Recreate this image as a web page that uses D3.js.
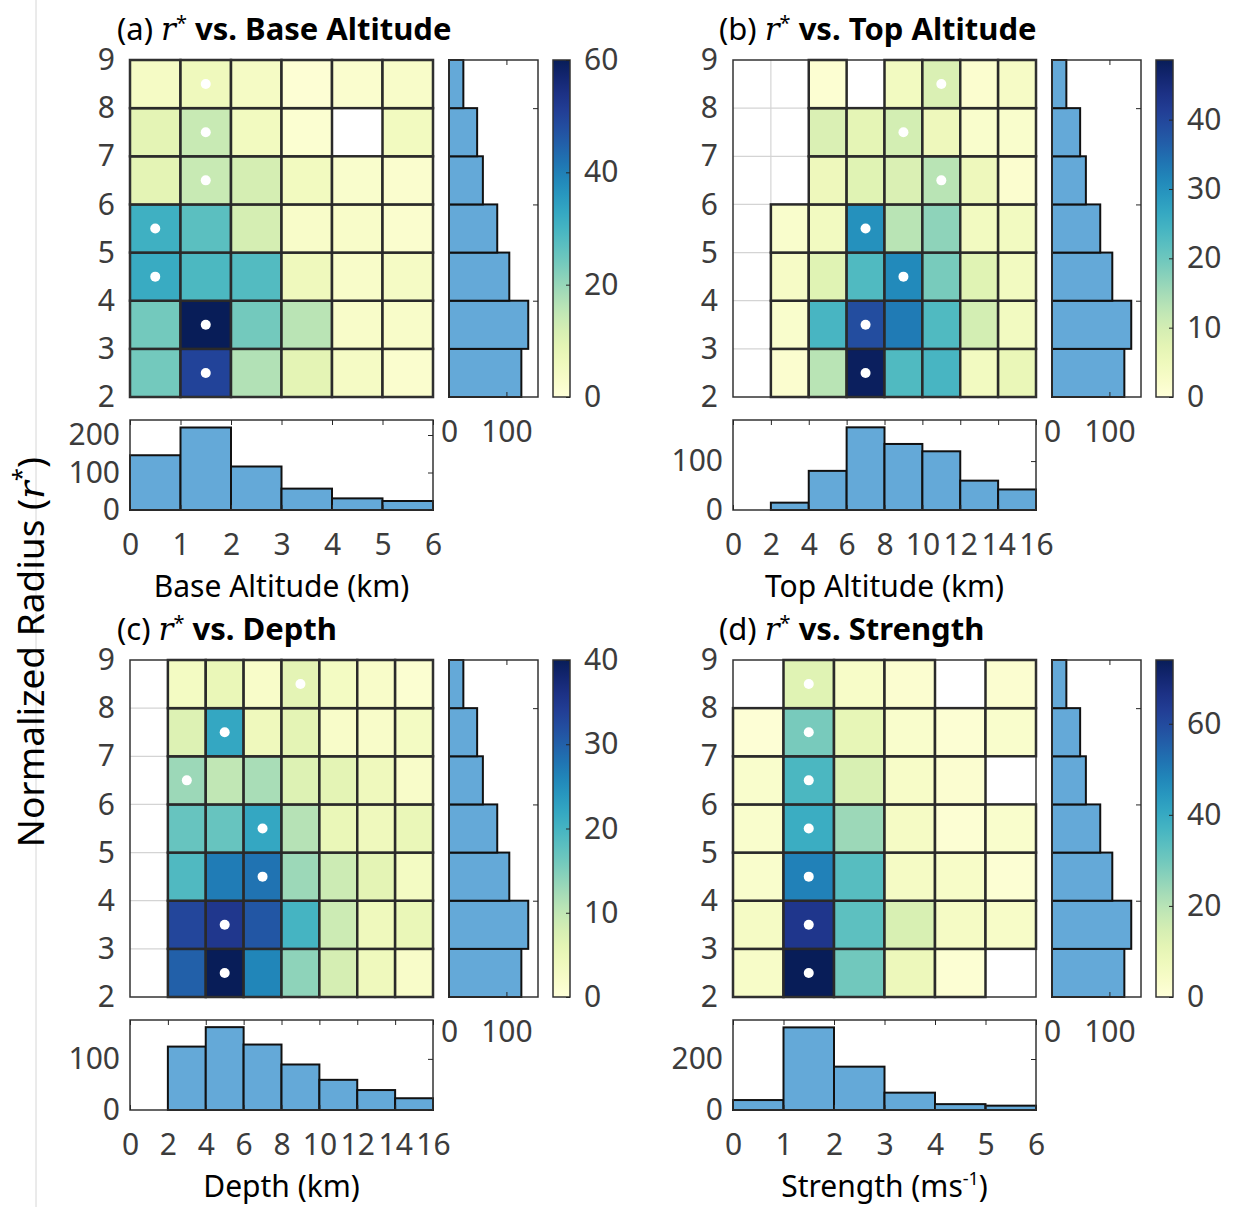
<!DOCTYPE html>
<html>
  <head>
    <title>r* joint histograms</title>
  </head>
  <body style="margin:0;background:#fff">
    <script src="https://d3js.org/d3.v7.min.js"></script>
<script>
// r* bins (rows) and marginal counts, bottom row first
var rStarEdges = [2, 3, 4, 5, 6, 7, 8, 9];
var rStarCounts = [126, 138, 105, 84, 59, 49, 25];

// (a) base altitude
var baseEdges = [0, 1, 2, 3, 4, 5, 6];
var baseCounts = [146, 220, 116, 57, 31, 24];
var baseGrid = [
  [24, 50, 17, 9, 4, 2],
  [24, 60, 24, 16, 3, 3],
  [32, 29, 28, 6, 3, 4],
  [31, 27, 12, 3, 3, 2],
  [9, 14, 12, 5, 2.5, 2],
  [9, 14, 5, 1.5, null, 5],
  [4, 6, 4, 1, 2, 3]
];

// (b) top altitude
var topEdges = [0, 2, 4, 6, 8, 10, 12, 14, 16];
var topCounts = [0, 15, 80, 169, 135, 120, 60, 42];
var topGrid = [
  [null, 1.5, 13, 48, 23, 24, 4, 6],
  [null, 2, 24, 39, 33, 23, 10, 4],
  [null, 3, 8, 23, 31, 19, 8, 4],
  [null, 2, 4, 30, 13, 17, 4, 4],
  [null, null, 5, 8, 9, 13, 5, 1.5],
  [null, null, 9, 7, 10, 5, 2, 2],
  [null, null, 1, null, 4, 9, 1.5, 3]
];

// (c) depth
var depthEdges = [0, 2, 4, 6, 8, 10, 12, 14, 16];
var depthCounts = [0, 124, 162, 128, 89, 59, 39, 23];
var depthGrid = [
  [null, 30, 40, 26, 14, 8, 4, 2],
  [null, 33, 35, 31, 20, 9, 4, 5],
  [null, 19, 27, 28, 13, 9, 6, 3],
  [null, 17, 17, 22, 11, 5, 4, 5],
  [null, 13, 10, 12, 7, 6, 4, 2],
  [null, 7, 22, 4, 6, 2, 2, 3],
  [null, 3, 5, 2, 6, 3, 2, 1]
];

// (d) strength
var strengthEdges = [0, 1, 2, 3, 4, 5, 6];
var strengthCounts = [39, 324, 170, 68, 23, 17];
var strengthGrid = [
  [4, 74, 30, 8, 1.5, null],
  [5, 65, 33, 14, 5, 4],
  [3, 49, 34, 5, 4, 1.5],
  [3, 39, 24, 5, 1.5, 3],
  [3, 36, 14, 4, 2, null],
  [1, 29, 10, 3, 1.5, 3],
  [null, 12, 4, 2, null, 2]
];

var panels = [
  {tag: "(a) ", name: "vs. Base Altitude", xlabel: "Base Altitude (km)", edges: baseEdges, counts: baseCounts,
   grid: baseGrid, cmax: 60, cticks: [0, 20, 40, 60], hmax: 240, hticks: [0, 100, 200], x0: 130, y0: 60, tx: 117},
  {tag: "(b) ", name: "vs. Top Altitude", xlabel: "Top Altitude (km)", edges: topEdges, counts: topCounts,
   grid: topGrid, cmax: 48.6, cticks: [0, 10, 20, 30, 40], hmax: 184, hticks: [0, 100], x0: 733, y0: 60, tx: 719},
  {tag: "(c) ", name: "vs. Depth", xlabel: "Depth (km)", edges: depthEdges, counts: depthCounts,
   grid: depthGrid, cmax: 40, cticks: [0, 10, 20, 30, 40], hmax: 176, hticks: [0, 100], x0: 130, y0: 660, tx: 117},
  {tag: "(d) ", name: "vs. Strength", xlabel: "Strength (ms", sup: "-1", edges: strengthEdges, counts: strengthCounts,
   grid: strengthGrid, cmax: 74, cticks: [0, 20, 40, 60], hmax: 353, hticks: [0, 200], x0: 733, y0: 660, tx: 719}
];

var FONT = "'Noto Sans', 'Open Sans', sans-serif";
var TICKC = "#3c3c3c";
var FS = 30;
var fmt = d3.format("~g");

var svg = d3.select("body").append("svg")
  .attr("width", 1248)
  .attr("height", 1207)
  .style("font-family", FONT);

var defs = svg.append("defs");

// faint page edge line
svg.append("line").attr("x1", 36).attr("x2", 36).attr("y1", 0).attr("y2", 1207)
  .attr("stroke", "#d6d6d6").attr("stroke-width", 1);

// style an axis group the MATLAB way
function styleAxis(sel, showDomain) {
  sel.attr("font-family", FONT).attr("font-size", FS);
  sel.selectAll("text").attr("fill", TICKC);
  sel.selectAll(".tick line").attr("stroke", "#262626");
  if (!showDomain) sel.select(".domain").remove();
}

function drawPanel(p, k) {
  var W = 303, H = 337;
  var g = svg.append("g").attr("transform", "translate(" + p.x0 + "," + p.y0 + ")");

  var x = d3.scaleLinear().domain([p.edges[0], p.edges[p.edges.length - 1]]).range([0, W]);
  var y = d3.scaleLinear().domain([rStarEdges[0], rStarEdges[rStarEdges.length - 1]]).range([H, 0]);
  var color = d3.scaleSequential(d3.interpolateYlGnBu).domain([0, p.cmax]);

  // light grid (shows through empty bins)
  g.selectAll(".gx").data(p.edges.slice(1, -1)).join("line")
    .attr("x1", function(d) { return x(d); }).attr("x2", function(d) { return x(d); })
    .attr("y1", 0).attr("y2", H).attr("stroke", "#d4d4d4").attr("stroke-width", 1.2);
  g.selectAll(".gy").data(rStarEdges.slice(1, -1)).join("line")
    .attr("y1", function(d) { return y(d); }).attr("y2", function(d) { return y(d); })
    .attr("x1", 0).attr("x2", W).attr("stroke", "#d4d4d4").attr("stroke-width", 1.2);

  var cells = [];
  p.grid.forEach(function(row, i) {
    row.forEach(function(v, j) { if (v != null) cells.push({i: i, j: j, v: v}); });
  });

  g.selectAll("rect.cell").data(cells).join("rect")
    .attr("class", "cell")
    .attr("x", function(d) { return x(p.edges[d.j]); })
    .attr("y", function(d) { return y(rStarEdges[d.i + 1]); })
    .attr("width", function(d) { return x(p.edges[d.j + 1]) - x(p.edges[d.j]); })
    .attr("height", function(d) { return y(rStarEdges[d.i]) - y(rStarEdges[d.i + 1]); })
    .attr("fill", function(d) { return color(d.v); })
    .attr("stroke", "#2a2a2a")
    .attr("stroke-width", 2.5);

  // white dot on the most populated bin of each row
  var dots = p.grid.map(function(row, i) {
    return {i: i, j: d3.maxIndex(row, function(v) { return v == null ? -1 : v; })};
  });
  g.selectAll("circle.dot").data(dots).join("circle")
    .attr("class", "dot")
    .attr("cx", function(d) { return (x(p.edges[d.j]) + x(p.edges[d.j + 1])) / 2; })
    .attr("cy", function(d) { return (y(rStarEdges[d.i]) + y(rStarEdges[d.i + 1])) / 2; })
    .attr("r", 5)
    .attr("fill", "#fff");

  g.append("rect").attr("width", W).attr("height", H)
    .attr("fill", "none").attr("stroke", "#333").attr("stroke-width", 1.5);

  var ya = g.append("g").call(d3.axisLeft(y).tickValues(rStarEdges).tickFormat(fmt).tickSize(0).tickPadding(15));
  styleAxis(ya, false);

  // title
  var t = svg.append("text").attr("x", p.tx).attr("y", p.y0 - 20)
    .attr("font-size", 31).attr("fill", "#000");
  t.append("tspan").text(p.tag);
  t.append("tspan").attr("font-family", "'DejaVu Serif', 'Liberation Serif', serif")
    .attr("font-style", "italic").text("r");
  t.append("tspan").attr("font-size", 20).attr("dy", -10).text("*");
  t.append("tspan").attr("dy", 10).attr("font-weight", "bold").text(" " + p.name);

  // right marginal histogram (r*)
  var rh = svg.append("g").attr("transform", "translate(" + (p.x0 + 319) + "," + p.y0 + ")");
  var hx = d3.scaleLinear().domain([0, 155]).range([0, 89]);
  rh.selectAll("rect.bar").data(rStarCounts).join("rect")
    .attr("class", "bar")
    .attr("x", 0)
    .attr("y", function(d, i) { return y(rStarEdges[i + 1]); })
    .attr("width", function(d) { return hx(d); })
    .attr("height", function(d, i) { return y(rStarEdges[i]) - y(rStarEdges[i + 1]); })
    .attr("fill", "#64a9d8").attr("stroke", "#111").attr("stroke-width", 2);
  rh.append("rect").attr("width", 89).attr("height", H)
    .attr("fill", "none").attr("stroke", "#333").attr("stroke-width", 1.5);
  styleAxis(rh.append("g").call(d3.axisTop(hx).tickValues([100]).tickSize(-5).tickFormat("")), false);
  styleAxis(rh.append("g").attr("transform", "translate(0," + H + ")")
    .call(d3.axisBottom(hx).tickValues([0, 100]).tickFormat(fmt).tickSize(-5).tickPadding(24)), false);
  styleAxis(rh.append("g").attr("transform", "translate(89,0)")
    .call(d3.axisRight(y).tickValues([4, 6, 8]).tickSize(-5).tickFormat("")), false);

  // colorbar
  var gid = "grad" + k;
  var grad = defs.append("linearGradient").attr("id", gid)
    .attr("x1", 0).attr("y1", 1).attr("x2", 0).attr("y2", 0);
  grad.selectAll("stop").data(d3.range(0, 1.0001, 0.05)).join("stop")
    .attr("offset", function(d) { return d; })
    .attr("stop-color", function(d) { return color(d * p.cmax); });
  var cb = svg.append("g").attr("transform", "translate(" + (p.x0 + 423) + "," + p.y0 + ")");
  var cy = d3.scaleLinear().domain([0, p.cmax]).range([H, 0]);
  cb.append("rect").attr("width", 17).attr("height", H)
    .attr("fill", "url(#" + gid + ")").attr("stroke", "#333").attr("stroke-width", 1.5);
  styleAxis(cb.append("g").attr("transform", "translate(17,0)")
    .call(d3.axisRight(cy).tickValues(p.cticks).tickFormat(fmt).tickSize(-4).tickPadding(14)), false);

  // bottom marginal histogram
  var bh = svg.append("g").attr("transform", "translate(" + p.x0 + "," + (p.y0 + 360) + ")");
  var by = d3.scaleLinear().domain([0, p.hmax]).range([90, 0]);
  var bars = p.counts.map(function(c, i) { return {c: c, i: i}; }).filter(function(d) { return d.c > 0; });
  bh.selectAll("rect.bar").data(bars).join("rect")
    .attr("class", "bar")
    .attr("x", function(d) { return x(p.edges[d.i]); })
    .attr("y", function(d) { return by(d.c); })
    .attr("width", function(d) { return x(p.edges[d.i + 1]) - x(p.edges[d.i]); })
    .attr("height", function(d) { return 90 - by(d.c); })
    .attr("fill", "#64a9d8").attr("stroke", "#111").attr("stroke-width", 2);
  bh.append("rect").attr("width", W).attr("height", 90)
    .attr("fill", "none").attr("stroke", "#333").attr("stroke-width", 1.5);
  styleAxis(bh.append("g").call(d3.axisLeft(by).tickValues(p.hticks).tickFormat(fmt).tickSize(0).tickPadding(10)), false);
  styleAxis(bh.append("g").attr("transform", "translate(" + W + ",0)")
    .call(d3.axisRight(by).tickValues(p.hticks).tickSize(-5).tickFormat("")), false);
  styleAxis(bh.append("g").call(d3.axisTop(x).tickValues(p.edges).tickSize(-5).tickFormat("")), false);
  styleAxis(bh.append("g").attr("transform", "translate(0,90)")
    .call(d3.axisBottom(x).tickValues(p.edges).tickFormat(fmt).tickSize(-5).tickPadding(24)), false);

  var xl = svg.append("text").attr("x", p.x0 + W / 2).attr("y", p.y0 + 537)
    .attr("text-anchor", "middle").attr("font-size", 30).attr("fill", "#000")
    .text(p.xlabel);
  if (p.sup) {
    xl.append("tspan").attr("font-size", 18).attr("dy", -12).text(p.sup);
    xl.append("tspan").attr("dy", 12).text(")");
  }
}

panels.forEach(drawPanel);

// shared y label
var yl = svg.append("text")
  .attr("transform", "translate(44,652) rotate(-90)")
  .attr("text-anchor", "middle").attr("font-size", 37).attr("fill", "#000")
  .text("Normalized Radius (");
yl.append("tspan").attr("font-family", "'DejaVu Serif', 'Liberation Serif', serif")
  .attr("font-style", "italic").text("r");
yl.append("tspan").attr("font-size", 24).attr("dy", -14).text("*");
yl.append("tspan").attr("dy", 14).text(")");
</script>
  </body>
</html>
